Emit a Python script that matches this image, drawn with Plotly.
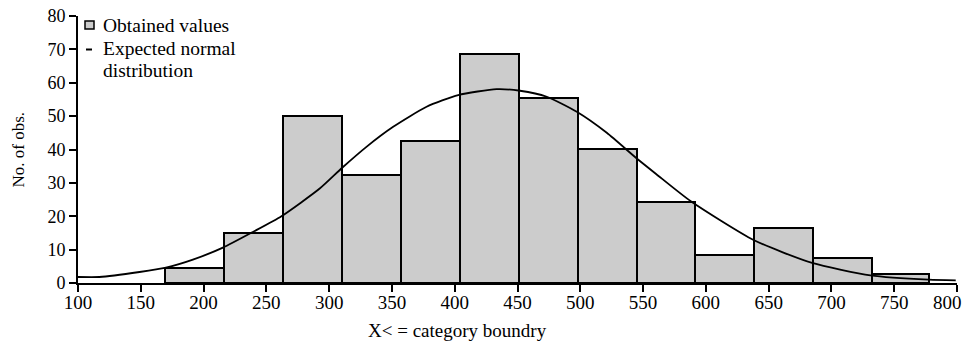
import plotly.graph_objects as go

# Histogram data (bin edges and counts)
bin_edges = [169, 216, 263, 310, 357, 404, 451, 498, 545, 591, 638, 685, 732, 778]
counts = [4.6, 14.9, 50, 32.5, 42.5, 68.6, 55.3, 40.3, 24.4, 8.4, 16.6, 7.6, 2.7]

# Expected normal distribution curve
curve_x = [100, 117, 149, 170, 191.5, 215.4, 239.3, 262, 292.5, 310.6, 329.7, 351, 377.6,
           402.8, 433.4, 452, 473.3, 497.2, 521.1, 545, 560.6, 588, 638, 684.6, 731.1, 777.6, 799]
curve_y = [1.8, 1.8, 3.3, 4.6, 7.0, 10.6, 15.3, 20.0, 28.3, 34.6, 40.8, 46.8, 52.8,
           56.3, 58.1, 57.6, 55.8, 51.3, 45.0, 37.3, 32.6, 24.5, 12.9, 6.0, 2.3, 1.0, 0.8]

x_ticks = [100, 150, 200, 250, 300, 350, 400, 450, 500, 550, 600, 650, 700, 750, 800]
x_tick_labels = ["100", "150", "200", "250", "300", "350", "400", "450", "500", "550",
                 "600", "650", "700", "750", "800"]
y_ticks = [0, 10, 20, 30, 40, 50, 60, 70, 80]

centers = [(a + b) / 2 for a, b in zip(bin_edges[:-1], bin_edges[1:])]
widths = [b - a for a, b in zip(bin_edges[:-1], bin_edges[1:])]

# the last label is drawn as a right-anchored annotation so it stays inside the page
x_tick_text = x_tick_labels[:-1] + [""]

FONT = "Liberation Serif, Times New Roman, serif"

fig = go.Figure()
fig.add_trace(go.Bar(
    x=centers, y=counts, width=widths,
    marker=dict(color="#cccccc", line=dict(color="black", width=2)),
    name="Obtained values", showlegend=False,
))
fig.add_trace(go.Scatter(
    x=curve_x, y=curve_y, mode="lines",
    line=dict(color="black", width=1.8, shape="spline", smoothing=0.6),
    name="Expected normal distribution", showlegend=False,
))

fig.update_layout(
    width=967, height=350,
    margin=dict(l=78, r=10, t=16, b=67),
    paper_bgcolor="white", plot_bgcolor="white",
    font=dict(family=FONT, color="black", size=19),
    bargap=0,
    xaxis=dict(range=[100, 800], tickvals=x_ticks, ticktext=x_tick_text,
               showline=True, linecolor="black",
               linewidth=2, ticks="outside", ticklen=7, tickwidth=2, tickcolor="black",
               showgrid=False, zeroline=False, ticklabeloverflow="allow",
               automargin=False, ticklabelstandoff=-6,
               tickfont=dict(size=19, family=FONT)),
    yaxis=dict(range=[0, 80], tickvals=y_ticks, showline=True, linecolor="black",
               linewidth=2, ticks="outside", ticklen=7, tickwidth=2, tickcolor="black",
               showgrid=False, zeroline=False, automargin=False,
               tickfont=dict(size=18, family=FONT)),
)

fig.add_annotation(text=x_tick_labels[-1], xref="x", yref="paper",
                   x=x_ticks[-1], y=0, xshift=7, yshift=-7,
                   xanchor="right", yanchor="top", showarrow=False,
                   font=dict(size=19, family=FONT))

# Axis titles
fig.add_annotation(text="X< = category boundry", xref="paper", yref="paper",
                   x=0.432, y=0, yshift=-47, xanchor="center", yanchor="middle",
                   showarrow=False, font=dict(size=19, family=FONT))
fig.add_annotation(text="No. of obs.", xref="paper", yref="paper",
                   x=0, y=0.5, xshift=-60, xanchor="center", yanchor="middle",
                   textangle=-90, showarrow=False, font=dict(size=17, family=FONT))

# Manual legend
fig.add_shape(type="rect", xref="paper", yref="paper",
              xsizemode="pixel", ysizemode="pixel", xanchor=0, yanchor=1,
              x0=7, x1=16, y0=-13, y1=-5,
              fillcolor="#cccccc", line=dict(color="black", width=1.5))
fig.add_shape(type="line", xref="paper", yref="paper",
              xsizemode="pixel", ysizemode="pixel", xanchor=0, yanchor=1,
              x0=8, x1=14, y0=-33.5, y1=-33.5,
              line=dict(color="black", width=2))
for txt, dy in [("Obtained values", -9), ("Expected normal", -32), ("distribution", -54)]:
    fig.add_annotation(text=txt, xref="paper", yref="paper", x=0, y=1,
                       xshift=23, yshift=dy, xanchor="left", yanchor="middle",
                       showarrow=False, font=dict(size=19.5, family=FONT))

fig.write_html("out.html")
